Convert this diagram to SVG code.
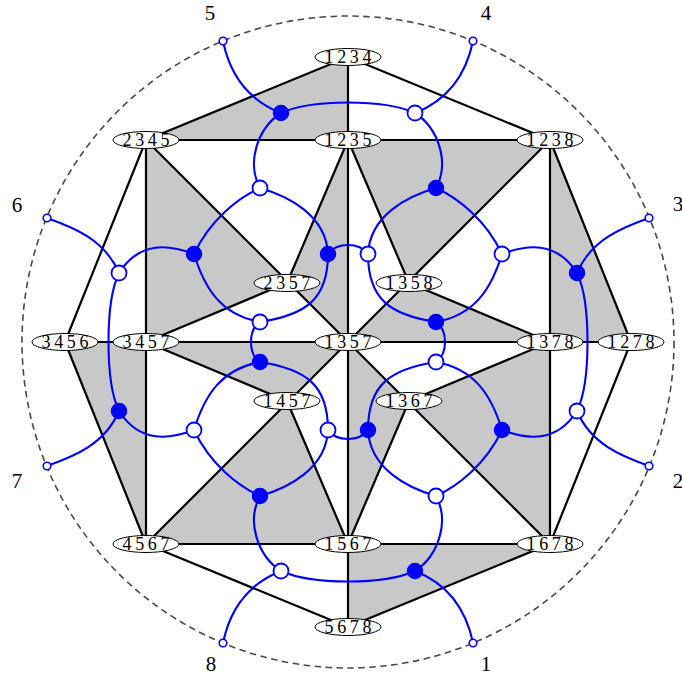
<svg xmlns="http://www.w3.org/2000/svg" width="682" height="682" viewBox="0 0 682 682">
<style>
.bg{fill:#fff}
.gray{fill:#c8c8c8;stroke:none}
.edge{stroke:#000;stroke-width:2.2;stroke-linecap:round}
.node ellipse{fill:#fff;stroke:#000;stroke-width:1}
.node text{font-family:"Liberation Serif","DejaVu Serif",serif;font-size:18px;letter-spacing:3.6px;text-anchor:middle;fill:#000}
.bl{fill:none;stroke:#0000ff;stroke-width:2.1}
.vf{fill:#0000ff;stroke:#0000ff;stroke-width:1.5}
.vo{fill:#fff;stroke:#0000ff;stroke-width:1.8}
.vb{fill:#fff;stroke:#0000ff;stroke-width:1.6}
.lab{font-family:"Liberation Serif","DejaVu Serif",serif;font-size:21px;text-anchor:middle;fill:#000}
</style>
<rect class="bg" x="0" y="0" width="682" height="682"/>
<circle cx="348" cy="342" r="326" fill="none" stroke="#484848" stroke-width="1.6" stroke-dasharray="6.5 4.5"/>
<g id="regions">
<polygon class="gray" points="146,140 348,57 348,140"/>
<polygon class="gray" points="348,140 550,140 409,283"/>
<polygon class="gray" points="146,140 287,283 146,342"/>
<polygon class="gray" points="348,140 287,283 348,342"/>
<polygon class="gray" points="550,140 631,342 550,342"/>
<polygon class="gray" points="409,283 550,342 348,342"/>
<polygon class="gray" points="65,342 146,342 146,544"/>
<polygon class="gray" points="146,342 287,401 348,342"/>
<polygon class="gray" points="287,401 146,544 348,544"/>
<polygon class="gray" points="348,342 409,401 348,544"/>
<polygon class="gray" points="409,401 550,342 550,544"/>
<polygon class="gray" points="348,544 550,544 348,627"/>
</g>
<g id="connectors">
<g id="black-edges">
<line class="edge" x1="348" y1="57" x2="146" y2="140"/>
<line class="edge" x1="348" y1="57" x2="550" y2="140"/>
<line class="edge" x1="348" y1="57" x2="348" y2="140"/>
<line class="edge" x1="146" y1="140" x2="550" y2="140"/>
<line class="edge" x1="146" y1="140" x2="65" y2="342"/>
<line class="edge" x1="146" y1="140" x2="146" y2="544"/>
<line class="edge" x1="146" y1="140" x2="348" y2="342"/>
<line class="edge" x1="348" y1="140" x2="287" y2="283"/>
<line class="edge" x1="348" y1="140" x2="348" y2="627"/>
<line class="edge" x1="348" y1="140" x2="409" y2="283"/>
<line class="edge" x1="550" y1="140" x2="348" y2="342"/>
<line class="edge" x1="550" y1="140" x2="550" y2="544"/>
<line class="edge" x1="550" y1="140" x2="631" y2="342"/>
<line class="edge" x1="409" y1="283" x2="550" y2="342"/>
<line class="edge" x1="287" y1="283" x2="146" y2="342"/>
<line class="edge" x1="65" y1="342" x2="631" y2="342"/>
<line class="edge" x1="65" y1="342" x2="146" y2="544"/>
<line class="edge" x1="146" y1="342" x2="287" y2="401"/>
<line class="edge" x1="348" y1="342" x2="146" y2="544"/>
<line class="edge" x1="348" y1="342" x2="550" y2="544"/>
<line class="edge" x1="287" y1="401" x2="348" y2="544"/>
<line class="edge" x1="409" y1="401" x2="550" y2="342"/>
<line class="edge" x1="409" y1="401" x2="348" y2="544"/>
<line class="edge" x1="146" y1="544" x2="550" y2="544"/>
<line class="edge" x1="146" y1="544" x2="348" y2="627"/>
<line class="edge" x1="550" y1="544" x2="348" y2="627"/>
<line class="edge" x1="631" y1="342" x2="550" y2="544"/>
</g>
<g id="blue-edges">
<path class="bl" d="M223,41 C230,75 248,100 281,113"/>
<path class="bl" d="M281,113 C312,99 384,99 415,113"/>
<path class="bl" d="M281,113 C258,128 246,162 260,188"/>
<path class="bl" d="M260,188 C238,198 210,220 194,254"/>
<path class="bl" d="M260,188 C288,196 326,215 328,254"/>
<path class="bl" d="M194,254 C205,290 222,315 260,322"/>
<path class="bl" d="M328,254 C328,300 305,315 260,322"/>
<path class="bl" d="M328,254 C337,242 359,242 368,254"/>
<path class="bl" d="M194,254 C170,245 140,240 119,273"/>
<path class="bl" d="M47,218 C75,228 105,240 119,273"/>
<path class="bl" d="M119,273 C105,302 105,382 119,411"/>
<path class="bl" d="M260,322 C248,330 248,354 260,362"/>

<path class="bl" d="M473,41 C466,75 448,100 415,113"/>
<path class="bl" d="M415,113 C438,128 450,162 436,188"/>
<path class="bl" d="M436,188 C458,198 486,220 502,254"/>
<path class="bl" d="M436,188 C408,196 370,215 368,254"/>
<path class="bl" d="M502,254 C491,290 474,315 436,322"/>
<path class="bl" d="M368,254 C368,300 391,315 436,322"/>
<path class="bl" d="M502,254 C526,245 556,240 577,273"/>
<path class="bl" d="M649,218 C621,228 591,240 577,273"/>
<path class="bl" d="M577,273 C591,302 591,382 577,411"/>
<path class="bl" d="M436,322 C448,330 448,354 436,362"/>

<path class="bl" d="M223,643 C230,609 248,584 281,571"/>
<path class="bl" d="M281,571 C312,585 384,585 415,571"/>
<path class="bl" d="M281,571 C258,556 246,522 260,496"/>
<path class="bl" d="M260,496 C238,486 210,464 194,430"/>
<path class="bl" d="M260,496 C288,488 326,469 328,430"/>
<path class="bl" d="M194,430 C205,394 222,369 260,362"/>
<path class="bl" d="M328,430 C328,384 305,369 260,362"/>
<path class="bl" d="M328,430 C337,442 359,442 368,430"/>
<path class="bl" d="M194,430 C170,439 140,444 119,411"/>
<path class="bl" d="M47,466 C75,456 105,444 119,411"/>

<path class="bl" d="M473,643 C466,609 448,584 415,571"/>
<path class="bl" d="M415,571 C438,556 450,522 436,496"/>
<path class="bl" d="M436,496 C458,486 486,464 502,430"/>
<path class="bl" d="M436,496 C408,488 370,469 368,430"/>
<path class="bl" d="M502,430 C491,394 474,369 436,362"/>
<path class="bl" d="M368,430 C368,384 391,369 436,362"/>
<path class="bl" d="M502,430 C526,439 556,444 577,411"/>
<path class="bl" d="M649,466 C621,456 591,444 577,411"/>
</g>
</g>
<g id="n1234" class="node"><ellipse cx="348" cy="57" rx="33" ry="8.5"/><text x="349.8" y="63">1234</text></g>
<g id="n2345" class="node"><ellipse cx="146" cy="140" rx="33" ry="8.5"/><text x="147.8" y="146">2345</text></g>
<g id="n1235" class="node"><ellipse cx="348" cy="140" rx="33" ry="8.5"/><text x="349.8" y="146">1235</text></g>
<g id="n1238" class="node"><ellipse cx="550" cy="140" rx="33" ry="8.5"/><text x="551.8" y="146">1238</text></g>
<g id="n2357" class="node"><ellipse cx="287" cy="283" rx="33" ry="8.5"/><text x="288.8" y="289">2357</text></g>
<g id="n1358" class="node"><ellipse cx="409" cy="283" rx="33" ry="8.5"/><text x="410.8" y="289">1358</text></g>
<g id="n3456" class="node"><ellipse cx="65" cy="342" rx="33" ry="8.5"/><text x="66.8" y="348">3456</text></g>
<g id="n3457" class="node"><ellipse cx="146" cy="342" rx="33" ry="8.5"/><text x="147.8" y="348">3457</text></g>
<g id="n1357" class="node"><ellipse cx="348" cy="342" rx="33" ry="8.5"/><text x="349.8" y="348">1357</text></g>
<g id="n1378" class="node"><ellipse cx="550" cy="342" rx="33" ry="8.5"/><text x="551.8" y="348">1378</text></g>
<g id="n1278" class="node"><ellipse cx="631" cy="342" rx="33" ry="8.5"/><text x="632.8" y="348">1278</text></g>
<g id="n1457" class="node"><ellipse cx="287" cy="401" rx="33" ry="8.5"/><text x="288.8" y="407">1457</text></g>
<g id="n1367" class="node"><ellipse cx="409" cy="401" rx="33" ry="8.5"/><text x="410.8" y="407">1367</text></g>
<g id="n4567" class="node"><ellipse cx="146" cy="544" rx="33" ry="8.5"/><text x="147.8" y="550">4567</text></g>
<g id="n1567" class="node"><ellipse cx="348" cy="544" rx="33" ry="8.5"/><text x="349.8" y="550">1567</text></g>
<g id="n1678" class="node"><ellipse cx="550" cy="544" rx="33" ry="8.5"/><text x="551.8" y="550">1678</text></g>
<g id="n5678" class="node"><ellipse cx="348" cy="627" rx="33" ry="8.5"/><text x="349.8" y="633">5678</text></g>
<g id="blue-vertices">
<circle id="vA" class="vf" cx="281" cy="113" r="7.5"/>
<circle id="va" class="vo" cx="415" cy="113" r="7.5"/>
<circle id="vb" class="vo" cx="260" cy="188" r="7.5"/>
<circle id="vB" class="vf" cx="436" cy="188" r="7.5"/>
<circle id="vC" class="vf" cx="194" cy="254" r="7.5"/>
<circle id="vD" class="vf" cx="328" cy="254" r="7.5"/>
<circle id="vc" class="vo" cx="368" cy="254" r="7.5"/>
<circle id="vd" class="vo" cx="502" cy="254" r="7.5"/>
<circle id="ve" class="vo" cx="119" cy="273" r="7.5"/>
<circle id="vE" class="vf" cx="577" cy="273" r="7.5"/>
<circle id="vf" class="vo" cx="260" cy="322" r="7.5"/>
<circle id="vF" class="vf" cx="436" cy="322" r="7.5"/>
<circle id="vG" class="vf" cx="260" cy="362" r="7.5"/>
<circle id="vg" class="vo" cx="436" cy="362" r="7.5"/>
<circle id="vH" class="vf" cx="119" cy="411" r="7.5"/>
<circle id="vh" class="vo" cx="577" cy="411" r="7.5"/>
<circle id="vi" class="vo" cx="194" cy="430" r="7.5"/>
<circle id="vj" class="vo" cx="328" cy="430" r="7.5"/>
<circle id="vI" class="vf" cx="368" cy="430" r="7.5"/>
<circle id="vJ" class="vf" cx="502" cy="430" r="7.5"/>
<circle id="vK" class="vf" cx="260" cy="496" r="7.5"/>
<circle id="vk" class="vo" cx="436" cy="496" r="7.5"/>
<circle id="vl" class="vo" cx="281" cy="571" r="7.5"/>
<circle id="vL" class="vf" cx="415" cy="571" r="7.5"/>
<circle id="p5" class="vb" cx="223" cy="41" r="3.8"/>
<circle id="p4" class="vb" cx="473" cy="41" r="3.8"/>
<circle id="p6" class="vb" cx="47" cy="218" r="3.8"/>
<circle id="p3" class="vb" cx="649" cy="218" r="3.8"/>
<circle id="p7" class="vb" cx="47" cy="466" r="3.8"/>
<circle id="p2" class="vb" cx="649" cy="466" r="3.8"/>
<circle id="p8" class="vb" cx="223" cy="643" r="3.8"/>
<circle id="p1" class="vb" cx="473" cy="643" r="3.8"/>
</g>
<g id="labels">
<text class="lab" x="210" y="20">5</text>
<text class="lab" x="486" y="20">4</text>
<text class="lab" x="17" y="212">6</text>
<text class="lab" x="678" y="211">3</text>
<text class="lab" x="17" y="488">7</text>
<text class="lab" x="678" y="488">2</text>
<text class="lab" x="211" y="671">8</text>
<text class="lab" x="486" y="671">1</text>
</g>
</svg>
